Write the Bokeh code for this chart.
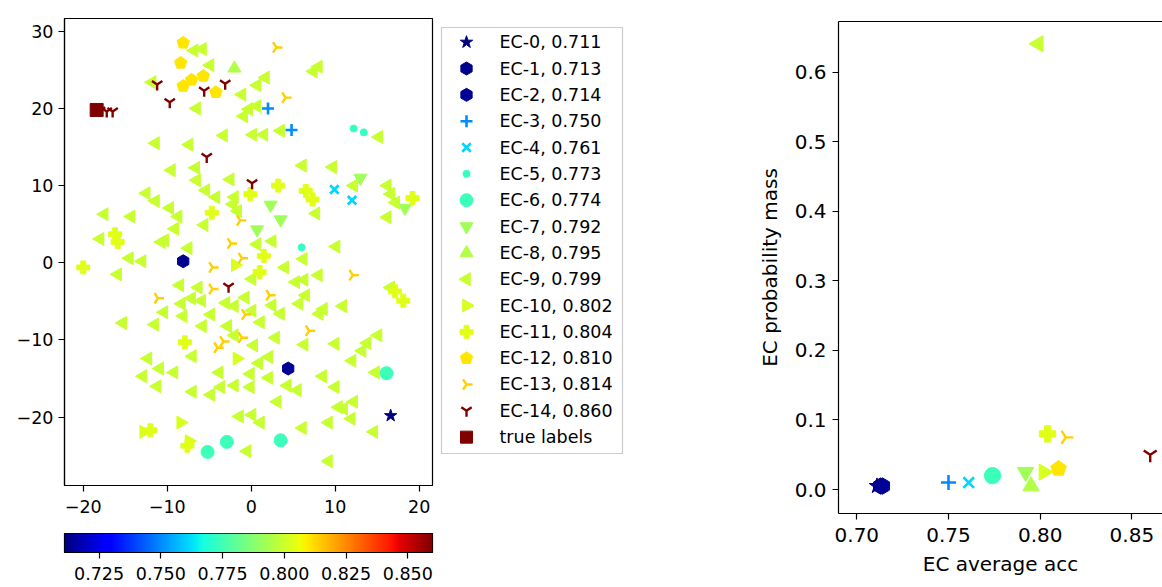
import numpy as np
from bokeh.plotting import figure
from bokeh.models import (ColumnDataSource, LinearColorMapper, Range1d,
                          FixedTicker, NumeralTickFormatter, CustomJSTickFormatter, LinearAxis)
from bokeh.layouts import row, column
from bokeh.embed import file_html
from bokeh.resources import INLINE
from bokeh.core.properties import value

# ---------------- data ----------------
ec_names = [f"EC-{i}" for i in range(15)]
ec_acc = [0.711, 0.713, 0.714, 0.750, 0.761, 0.773, 0.774, 0.792, 0.795, 0.799,
          0.802, 0.804, 0.810, 0.814, 0.860]
ec_mass = [0.005, 0.005, 0.005, 0.010, 0.010, 0.015, 0.020, 0.025, 0.005, 0.641,
           0.025, 0.080, 0.030, 0.075, 0.050]

ec0_xy = [(16.6, -19.8)]
ec1_xy = [(-8.1, 0.2)]
ec2_xy = [(4.4, -13.7)]
ec3_xy = [(2.0, 20.0), (4.8, 17.2)]
ec4_xy = [(9.9, 9.5), (12.0, 8.1)]
ec5_xy = [(12.2, 17.4), (13.4, 16.9), (6.0, 2.0)]
ec6_xy = [(16.1, -14.3), (3.5, -23.0), (-5.2, -24.5), (-2.9, -23.2)]
ec7_xy = [(13.0, 11.0), (2.3, 7.5), (3.5, 5.6), (0.7, 4.3), (18.3, 7.1)]
ec8_xy = [(-2.0, 25.2)]
ec9_xy = [
    (-6.8, 27.5), (-5.8, 27.7), (-4.9, 25.6), (7.4, 24.8), (8.0, 25.4), (-11.8, 23.4), (1.7, 24.0), (0.7, 23.0),
    (-1.1, 21.8), (-6.5, 20.0), (-0.3, 19.9), (0.7, 20.3), (-0.9, 19.0), (-3.3, 16.5), (0.2, 16.6), (1.5, 16.6),
    (3.5, 17.1), (15.2, 16.3), (-11.4, 15.5), (-7.4, 15.3), (-9.5, 12.0), (-6.6, 12.3), (6.1, 12.6), (9.7, 12.4),
    (-6.5, 10.7), (-2.5, 10.8), (-12.5, 9.0), (-11.4, 8.0), (-5.4, 9.4), (-4.2, 8.5), (-2.0, 8.5), (-2.2, 7.6),
    (-1.6, 6.7), (-9.7, 7.1), (-8.7, 6.0), (-17.5, 6.3), (-14.3, 6.0), (-9.1, 4.4), (-5.6, 4.9), (-18.0, 3.1),
    (-10.7, 2.7), (-10.3, 2.9), (-7.5, 1.9), (-14.5, 0.6), (-13.0, 0.2), (-15.9, -1.5), (-8.5, -2.9), (-6.3, -3.2),
    (-7.1, -4.6), (-5.9, -4.9), (-8.3, -5.3), (-10.4, -6.4), (-8.1, -6.9), (-4.8, -6.7), (-15.3, -7.8), (-11.5, -8.0),
    (-5.8, -8.2), (-3.0, -5.2), (-2.0, -5.6), (-2.8, -8.2), (-0.7, -4.5), (12.2, 10.0), (16.2, 10.0), (16.6, 8.9),
    (17.2, 7.8), (7.7, 6.4), (16.2, 5.9), (0.7, 2.4), (2.5, 2.8), (10.1, 2.1), (6.2, 0.5), (4.0, -0.6),
    (5.3, -2.5), (6.3, -2.2), (8.0, -1.6), (0.1, -2.1), (6.5, -4.2), (5.7, -5.3), (2.5, -5.5), (0.1, -6.2),
    (3.5, -6.6), (8.6, -6.0), (8.1, -6.6), (10.9, -5.6), (1.1, -7.7), (16.6, -3.2), (-2.0, -9.4), (-12.3, -12.4),
    (-10.9, -13.7), (-9.2, -14.2), (-12.9, -14.7), (-11.2, -16.0), (-7.0, -12.1), (-3.8, -14.2), (-3.6, -16.1), (-2.0, -15.9),
    (-4.8, -17.1), (-7.0, -16.7), (-1.4, -19.9), (-0.5, -24.4), (2.9, -9.7), (0.3, -10.7), (0.9, -13.0), (2.1, -12.2),
    (-0.1, -14.4), (2.1, -14.9), (-0.1, -16.1), (6.3, -10.6), (10.0, -10.5), (13.8, -10.4), (15.1, -9.4), (13.2, -11.4),
    (12.0, -12.7), (14.8, -14.2), (8.5, -14.7), (10.0, -16.1), (4.3, -15.9), (5.5, -16.5), (3.1, -18.0), (0.1, -19.7),
    (1.1, -20.7), (6.1, -21.4), (9.2, -20.7), (10.4, -18.7), (11.0, -18.9), (12.2, -18.0), (11.9, -20.2), (14.6, -21.9),
    (9.2, -25.7)]
ec10_xy = [(-1.9, -0.3), (-1.7, -12.4), (-8.4, -20.7), (-12.8, -21.9), (-7.4, -23.1)]
ec11_xy = [(3.2, 10.0), (-0.1, 8.9), (6.5, 9.3), (7.3, 8.2), (19.2, 8.4), (1.5, 0.9), (1.0, -1.2), (17.1, -3.7),
           (18.1, -4.9), (-4.7, 6.5), (-16.2, 3.7), (-15.9, 2.7), (-20.0, -0.6), (-7.9, -10.3), (-12.0, -21.7), (-7.6, -23.7)]
ec12_xy = [(-8.1, 28.5), (-8.4, 25.9), (-7.1, 23.7), (-5.7, 24.2), (-8.1, 22.9), (-4.2, 22.1)]
ec13_xy = [(3.0, 27.9), (4.1, 21.4), (-1.3, 5.5), (-2.4, 2.5), (-1.1, 0.6), (-4.6, -0.6), (-4.6, -3.4), (-11.1, -4.6),
           (2.2, -4.2), (-0.7, -6.7), (6.9, -8.8), (-1.1, -9.7), (-3.3, -10.2), (-4.0, -11.0), (12.1, -1.6)]
ec14_xy = [(-11.2, 23.1), (-5.6, 22.3), (-3.1, 23.2), (-9.7, 20.8), (-17.2, 19.6), (-16.5, 19.6), (-5.3, 13.7),
           (0.1, 10.3), (-2.7, -3.1), (-18.0, 19.7)]
true_xy = [(-18.4, 19.8)]

ec_points = [ec0_xy, ec1_xy, ec2_xy, ec3_xy, ec4_xy, ec5_xy, ec6_xy, ec7_xy, ec8_xy, ec9_xy,
             ec10_xy, ec11_xy, ec12_xy, ec13_xy, ec14_xy]

legend_labels = [f"{n}, {a:.3f}" for n, a in zip(ec_names, ec_acc)] + ["true labels"]

left_xticks = [-20, -10, 0, 10, 20]
left_yticks = [-20, -10, 0, 10, 20, 30]
cbar_ticks = [0.725, 0.750, 0.775, 0.800, 0.825, 0.850]
right_xticks = [0.70, 0.75, 0.80, 0.85]
right_yticks = [0.0, 0.1, 0.2, 0.3, 0.4, 0.5, 0.6]

# ---------------- styles ----------------
FONT = "DejaVu Sans"
LEFT_FS = "17.5px"
RIGHT_FS = "20px"
ANG = np.pi / 2
TRUE_COLOR = "#800000"


def jet(n=256):
    t = np.linspace(0, 1, n)
    r = np.interp(t, [0, 0.35, 0.66, 0.89, 1], [0, 0, 1, 1, 0.5])
    g = np.interp(t, [0, 0.125, 0.375, 0.64, 0.91, 1], [0, 0, 1, 1, 0, 0])
    b = np.interp(t, [0, 0.11, 0.34, 0.65, 1], [0.5, 1, 1, 0, 0])
    return ["#%02x%02x%02x" % (int(round(a * 255)), int(round(c * 255)), int(round(d * 255)))
            for a, c, d in zip(r, g, b)]


JET = jet()
lo, hi = min(ec_acc), max(ec_acc)
mapper = LinearColorMapper(palette=JET, low=lo, high=hi)
FIELD_COL = {"field": "acc", "transform": mapper}


def swatch(v):
    # same lookup as the LinearColorMapper, for legend swatches
    k = int((v - lo) / (hi - lo) * len(JET))
    return JET[min(max(k, 0), len(JET) - 1)]


# marker, size(px), angle, line-only, line width
styles = [
    ("star", 13, 0.0, False, 1),
    ("hex", 13, ANG, False, 1),
    ("hex", 13, ANG, False, 1),
    ("cross", 12, 0.0, True, 2.6),
    ("x", 12, 0.0, True, 2.6),
    ("circle", 7, 0.0, False, 1),
    ("circle", 13, 0.0, False, 1),
    ("inverted_triangle", 13, 0.0, False, 1),
    ("triangle", 13, 0.0, False, 1),
    ("triangle", 13, ANG, False, 1),
    ("triangle", 13, -ANG, False, 1),
    ("plus", 13, 0.0, False, 1),
    ("pentagon", 13, 0.0, False, 1),
    ("y", 12, ANG, True, 2.4),
    ("y", 12, 0.0, True, 2.4),
]


def add_series(p, xs, ys, accs, st, scale, col, px_per_x, px_per_y):
    marker, size, ang, line_only, lw = st
    size = size * scale
    if marker == "pentagon":
        # regular pentagon marker (point up), sized in screen pixels
        r = size / 2
        th = np.pi / 2 + 2 * np.pi * np.arange(5) / 5
        src = ColumnDataSource(dict(
            xs=[list(x + r * np.cos(th) / px_per_x) for x in xs],
            ys=[list(y + r * np.sin(th) / px_per_y) for y in ys],
            acc=list(accs)))
        return p.patches("xs", "ys", source=src, fill_color=col, line_color=col, line_width=1)
    src = ColumnDataSource(dict(x=list(xs), y=list(ys), acc=list(accs)))
    if line_only:
        return p.scatter("x", "y", source=src, marker=marker, size=size, angle=ang,
                         line_color=col, fill_color=None, line_width=lw)
    return p.scatter("x", "y", source=src, marker=marker, size=size, angle=ang,
                     fill_color=col, line_color=col, line_width=1)


def style_axis(ax, fs):
    ax.major_label_text_font = FONT
    ax.major_label_text_font_size = fs
    ax.major_label_text_color = "black"
    ax.major_tick_in = 0
    ax.major_tick_out = 6
    ax.major_tick_line_width = 1.2
    ax.minor_tick_line_color = None
    ax.axis_line_color = "black"
    ax.axis_line_width = 1.2
    ax.axis_label_text_font = FONT
    ax.axis_label_text_font_style = "normal"
    ax.axis_label_text_color = "black"


minus_fmt = CustomJSTickFormatter(code="return String(tick).replace('-', '\u2212');")

# ---------------- left scatter ----------------
L_FW, L_FH = 368, 467
L_X, L_Y = (-22.23, 21.58), (-28.85, 31.65)
p1 = figure(width=435, height=525, min_border_left=64, min_border_right=3,
            min_border_top=18, min_border_bottom=40,
            x_range=Range1d(*L_X), y_range=Range1d(*L_Y),
            output_backend="svg", toolbar_location=None)
p1.grid.visible = False
p1.outline_line_color = "black"
p1.outline_line_width = 1.2
for ax in (p1.xaxis[0], p1.yaxis[0]):
    style_axis(ax, LEFT_FS)
    ax.formatter = minus_fmt
p1.xaxis.major_label_standoff = 8
p1.yaxis.major_label_standoff = 5
p1.xaxis.ticker = FixedTicker(ticks=left_xticks)
p1.yaxis.ticker = FixedTicker(ticks=left_yticks)
kx1 = L_FW / (L_X[1] - L_X[0])
ky1 = L_FH / (L_Y[1] - L_Y[0])

for i, pts in enumerate(ec_points):
    add_series(p1, [a for a, _ in pts], [b for _, b in pts], [ec_acc[i]] * len(pts),
               styles[i], 1.0, FIELD_COL, kx1, ky1)
tsrc = ColumnDataSource(dict(x=[a for a, _ in true_xy], y=[b for _, b in true_xy]))
p1.scatter("x", "y", source=tsrc, marker="square", size=13, fill_color=TRUE_COLOR, line_color=TRUE_COLOR)

# ---------------- legend panel (pixel units: x = page x, y = 587 - page y) ----------------
pl = figure(width=205, height=587, min_border_left=0, min_border_right=0,
            min_border_top=21, min_border_bottom=74,
            x_range=Range1d(435, 640), y_range=Range1d(74, 566),
            x_axis_location=None, y_axis_location=None,
            output_backend="svg", toolbar_location=None)
pl.grid.visible = False
pl.outline_line_color = None
pl.quad(left=441, right=622, top=560, bottom=134, fill_color="white",
        line_color="#cccccc", line_width=1.2)
row_y = [545.3 - 26.33 * k for k in range(len(legend_labels))]
GLYPH_X, TEXT_X = 466, 499
for i in range(15):
    add_series(pl, [GLYPH_X], [row_y[i]], [ec_acc[i]], styles[i], 1.0, swatch(ec_acc[i]), 1.0, 1.0)
pl.scatter([GLYPH_X], [row_y[15]], marker="square", size=12, fill_color=TRUE_COLOR, line_color=TRUE_COLOR)
pl.text(x=[TEXT_X] * len(legend_labels), y=row_y, text=legend_labels,
        text_baseline="middle", text_align="left", text_font=value(FONT),
        text_font_size=LEFT_FS, text_color="black")

# ---------------- colorbar ----------------
cb = figure(width=435, height=62, min_border_left=64, min_border_right=3,
            min_border_top=8, min_border_bottom=35,
            x_range=Range1d(lo, hi), y_range=Range1d(0, 1),
            output_backend="svg", toolbar_location=None)
cb.image(image=[np.linspace(lo, hi, 256).reshape(1, 256)], x=lo, y=0, dw=hi - lo, dh=1, color_mapper=mapper)
cb.grid.visible = False
cb.yaxis.visible = False
cb.outline_line_color = "black"
cb.outline_line_width = 1.2
style_axis(cb.xaxis[0], LEFT_FS)
cb.xaxis.ticker = FixedTicker(ticks=cbar_ticks)
cb.xaxis.formatter = NumeralTickFormatter(format="0.000")
cb.xaxis.major_label_standoff = 8

# ---------------- right scatter ----------------
R_FW, R_FH = 324, 492
R_X, R_Y = (0.690, 0.8667), (-0.0345, 0.673)
p2 = figure(width=522, height=587, min_border_left=198, min_border_right=0,
            min_border_top=21, min_border_bottom=74,
            x_range=Range1d(*R_X), y_range=Range1d(*R_Y),
            output_backend="svg", toolbar_location=None)
p2.grid.visible = False
p2.outline_line_color = None
for ax in (p2.xaxis[0], p2.yaxis[0]):
    style_axis(ax, RIGHT_FS)
    ax.axis_label_text_font_size = RIGHT_FS
p2.xaxis.major_label_standoff = 8
p2.yaxis.major_label_standoff = 6
p2.xaxis.ticker = FixedTicker(ticks=right_xticks)
p2.yaxis.ticker = FixedTicker(ticks=right_yticks)
p2.xaxis.formatter = NumeralTickFormatter(format="0.00")
p2.yaxis.formatter = NumeralTickFormatter(format="0.0")
p2.xaxis.axis_label = "EC average acc"
p2.yaxis.axis_label = "EC probability mass"
p2.xaxis.axis_label_standoff = 7
p2.yaxis.axis_label_standoff = 10
top_ax = LinearAxis(ticker=FixedTicker(ticks=[]), major_label_text_font_size="0px",
                    major_tick_line_color=None, minor_tick_line_color=None,
                    axis_line_color="black", axis_line_width=1.2)
p2.add_layout(top_ax, "above")
kx2 = R_FW / (R_X[1] - R_X[0])
ky2 = R_FH / (R_Y[1] - R_Y[0])

for i in range(15):
    add_series(p2, [ec_acc[i]], [ec_mass[i]], [ec_acc[i]], styles[i], 1.25, FIELD_COL, kx2, ky2)

layout = row(column(p1, cb), pl, p2)
with open("out.html", "w", encoding="utf-8") as f:
    f.write(file_html(layout, INLINE))
